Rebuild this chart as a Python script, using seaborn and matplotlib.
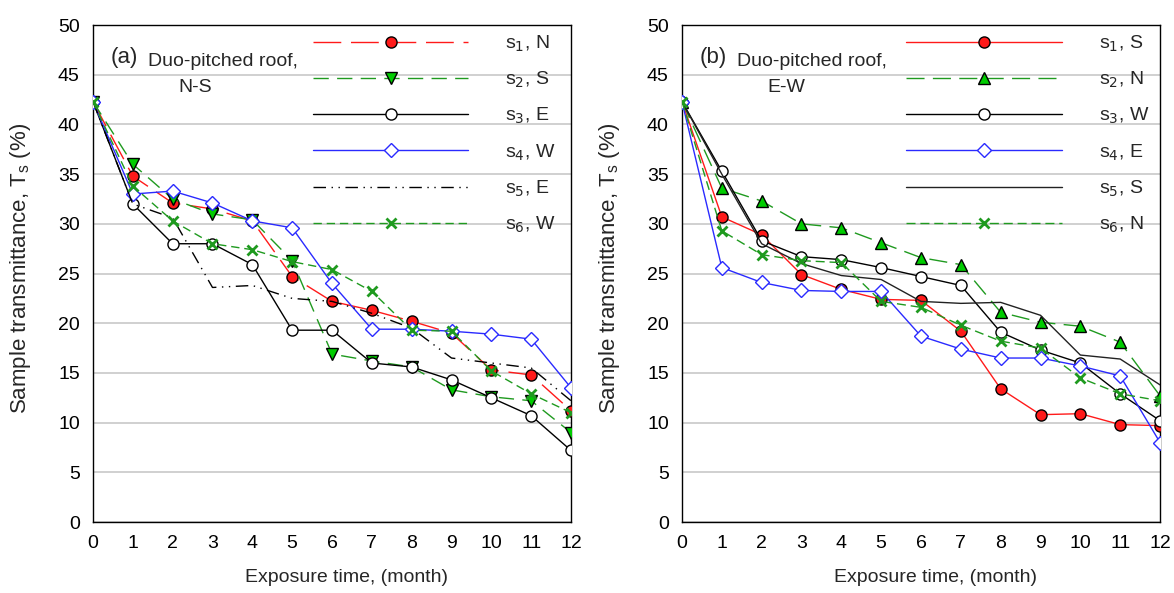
import numpy as np
import pandas as pd
import seaborn as sns
import matplotlib.pyplot as plt

months = list(range(13))

# panel (a): duo-pitched roof, N-S
a_s1 = [42.3, 34.8, 32.1, 31.5, 30.3, 24.7, 22.2, 21.3, 20.2, 19.0, 15.3, 14.8, 11.2]
a_s2 = [42.3, 36.0, 32.5, 31.0, 30.4, 26.3, 16.9, 16.2, 15.6, 13.3, 12.6, 12.2, 9.0]
a_s3 = [42.3, 32.0, 28.0, 28.0, 25.9, 19.3, 19.3, 16.0, 15.6, 14.3, 12.5, 10.7, 7.2]
a_s4 = [42.3, 33.0, 33.3, 32.1, 30.3, 29.6, 24.0, 19.4, 19.4, 19.2, 18.9, 18.4, 13.5]
a_s5 = [42.3, 32.0, 30.6, 23.6, 23.8, 22.5, 22.2, 21.0, 19.5, 16.5, 16.0, 15.5, 12.2]
a_s6 = [42.3, 33.8, 30.3, 28.0, 27.4, 26.2, 25.4, 23.2, 19.3, 19.2, 15.2, 12.9, 11.0]
a_labels = ["N", "S", "E", "W", "E", "W"]

# panel (b): duo-pitched roof, E-W
b_s1 = [42.3, 30.7, 28.9, 24.9, 23.4, 22.4, 22.3, 19.2, 13.4, 10.8, 10.9, 9.8, 9.7]
b_s2 = [42.3, 33.6, 32.3, 30.0, 29.6, 28.1, 26.6, 25.9, 21.1, 20.1, 19.7, 18.1, 12.7]
b_s3 = [42.3, 35.3, 28.3, 26.7, 26.4, 25.6, 24.7, 23.8, 19.1, 17.3, 16.0, 12.9, 10.2]
b_s4 = [42.3, 25.6, 24.1, 23.3, 23.2, 23.2, 18.7, 17.4, 16.5, 16.5, 15.7, 14.7, 8.0]
b_s5 = [42.3, 35.0, 28.0, 26.0, 24.8, 24.4, 22.2, 22.0, 22.1, 20.8, 16.8, 16.4, 13.8]
b_s6 = [42.3, 29.3, 26.9, 26.3, 26.1, 22.2, 21.6, 19.8, 18.2, 17.5, 14.5, 12.9, 12.2]
b_labels = ["S", "N", "W", "E", "S", "N"]

RED = "#ff1a1a"
GRN = "#1f9a1f"
LIME = "#00cc00"
BLU = "#2a2aff"

styles_a = [
    dict(color=RED, ls=(0, (20, 7)), marker="o", mfc=RED, mec="black", ms=8),
    dict(color=GRN, ls=(0, (11, 6)), marker="v", mfc=LIME, mec="black", ms=8),
    dict(color="black", ls="-", marker="o", mfc="white", mec="black", ms=8),
    dict(color=BLU, ls="-", marker="D", mfc="white", mec=BLU, ms=7.5),
    dict(color="black", ls=(0, (9, 4, 1, 4, 1, 4)), marker=None, mfc="none", mec="none", ms=0),
    dict(color=GRN, ls=(0, (6, 3.5)), marker="x", mfc=GRN, mec=GRN, ms=6.5),
]
styles_b = [
    dict(color=RED, ls="-", marker="o", mfc=RED, mec="black", ms=8),
    dict(color=GRN, ls=(0, (13, 6)), marker="^", mfc=LIME, mec="black", ms=8),
    dict(color="black", ls="-", marker="o", mfc="white", mec="black", ms=8),
    dict(color=BLU, ls="-", marker="D", mfc="white", mec=BLU, ms=7.5),
    dict(color="#222222", ls="-", marker=None, mfc="none", mec="none", ms=0),
    dict(color=GRN, ls=(0, (6.5, 3.5)), marker="x", mfc=GRN, mec=GRN, ms=6.5),
]


def draw_panel(ax, series, labels, styles, tag, orient, leg_x):
    for i, (vals, lab, st) in enumerate(zip(series, labels, styles)):
        df = pd.DataFrame({"month": months, "T": vals})
        sns.lineplot(data=df, x="month", y="T", ax=ax, color=st["color"],
                     linestyle=st["ls"], linewidth=1.0, marker=st["marker"],
                     markerfacecolor=st["mfc"], markeredgecolor=st["mec"],
                     markersize=st["ms"], markeredgewidth=1.0 if st["marker"] != "x" else 2.0,
                     label=f"s$_{i + 1}$, {lab}", zorder=3 + i)
    ax.set_xlim(0, 12)
    ax.set_ylim(0, 50)
    ax.set_xticks(range(13))
    ax.set_yticks(range(0, 51, 5))
    ax.yaxis.grid(True, color="#c8c8c8", linewidth=1.2)
    ax.xaxis.grid(False)
    ax.set_axisbelow(True)
    for sp in ax.spines.values():
        sp.set_color("black")
        sp.set_linewidth(1.0)
    ax.tick_params(axis="both", labelsize=14, length=5.5, width=1.0,
                   direction="out", colors="black", pad=4)
    ax.set_xlabel("Exposure time, (month)", fontsize=14)
    ax.set_ylabel(r"Sample transmittance, T$_\mathregular{s}$ (%)", fontsize=16)
    ax.xaxis.set_label_coords(0.53, -0.094)
    ax.yaxis.set_label_coords(-0.125, 0.51)
    ax.text(0.037, 0.934, tag, transform=ax.transAxes, fontsize=16, va="center")
    ax.text(0.115, 0.926, "Duo-pitched roof,", transform=ax.transAxes, fontsize=14, va="center")
    ax.text(0.178, 0.875, orient, transform=ax.transAxes, fontsize=14, va="center")
    ax.legend(loc="upper left", frameon=False, fontsize=14, handlelength=8.0,
              handletextpad=1.9, labelspacing=0.82, borderaxespad=0.0, borderpad=0.0,
              bbox_to_anchor=(leg_x, 0.983), numpoints=1)


sns.set_style("white")
plt.rcParams['font.family'] = ['Liberation Sans', 'DejaVu Sans']

fig = plt.figure(figsize=(11.74, 5.93), dpi=100)
ax1 = fig.add_axes([0.0792, 0.1197, 0.4072, 0.838])
ax2 = fig.add_axes([0.5809, 0.1197, 0.4072, 0.838])

draw_panel(ax1, [a_s1, a_s2, a_s3, a_s4, a_s5, a_s6], a_labels, styles_a, "(a)", "N-S", 0.460)
draw_panel(ax2, [b_s1, b_s2, b_s3, b_s4, b_s5, b_s6], b_labels, styles_b, "(b)", "E-W", 0.469)

fig.savefig("out.png", dpi=100)
